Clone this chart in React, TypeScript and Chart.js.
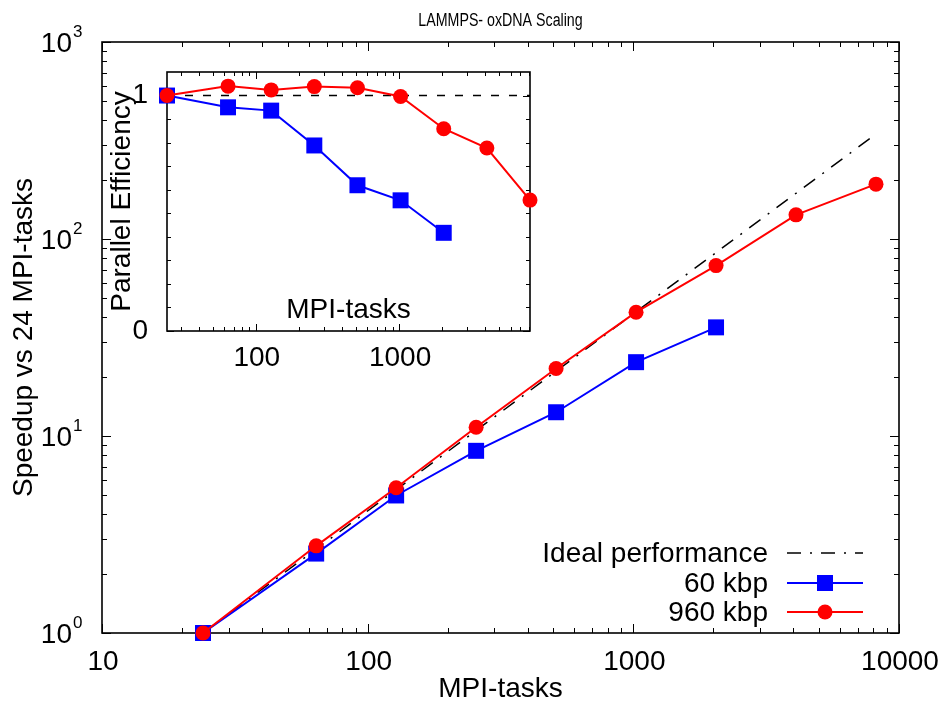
import { useEffect, useRef } from 'react';
import { Chart, registerables } from 'chart.js';

Chart.register(...registerables);

// ---------- data ----------
const tasks = [24, 64, 128, 256, 512, 1024, 2048, 4096, 8192];
const tasks60 = [24, 64, 128, 256, 512, 1024, 2048];
const speedup960 = [1, 2.77, 5.46, 11.07, 22.0, 42.5, 73.3, 132.6, 189.8];
const speedup60 = [1, 2.53, 4.99, 8.41, 13.2, 23.7, 35.6];
const idealTasks = [24, 8192];
const idealSpeedup = [1, 341.3];
const efficiency960 = [1, 1.04, 1.024, 1.038, 1.033, 0.996, 0.859, 0.777, 0.556];
const efficiency60 = [1, 0.95, 0.936, 0.788, 0.619, 0.555, 0.417];
const refEfficiency = [1, 1];

const mainXTicks = [10, 100, 1000, 10000];
const mainXMinor = [20, 30, 40, 50, 60, 70, 80, 90, 200, 300, 400, 500, 600, 700, 800, 900, 2000, 3000, 4000, 5000, 6000, 7000, 8000, 9000];
const mainYTicks = [1, 10, 100, 1000];
const mainYExponents = ['0', '1', '2', '3'];
const mainYMinor = [2, 3, 4, 5, 6, 7, 8, 9, 20, 30, 40, 50, 60, 70, 80, 90, 200, 300, 400, 500, 600, 700, 800, 900];
const insetXTicks = [100, 1000];
const insetXMinor = [30, 40, 50, 60, 70, 80, 90, 200, 300, 400, 500, 600, 700, 800, 900, 2000, 3000, 4000, 5000, 6000, 7000, 8000];
const insetYTicks = [0, 1];
const insetYMinor = [0.1, 0.2, 0.3, 0.4, 0.5, 0.6, 0.7, 0.8, 0.9, 1.0];

const legendLabels = ['Ideal performance', '60 kbp', '960 kbp'];

// ---------- styles ----------
const FONT = '"Liberation Sans", Arial, Helvetica, sans-serif';
const RED = '#ff0000';
const BLUE = '#0000ff';
const BLACK = '#000000';
const IDEAL_DASH = [14, 9, 2, 9];

function pts(xs: number[], ys: number[]) {
  return xs.map((x, i) => ({ x, y: ys[i] }));
}

function framePlugin(id: string, spec: {
  xMajor: number[]; xMinor: number[]; yMajor: number[]; yMinor: number[];
  majorLen: number; minorLen: number;
}) {
  return {
    id,
    beforeDatasetsDraw(chart: any) {
      const { ctx, chartArea: a, scales } = chart;
      const xs = scales.x, ys = scales.y;
      ctx.save();
      ctx.strokeStyle = BLACK;
      ctx.lineWidth = 1;
      const drawX = (vals: number[], len: number) => {
        vals.forEach((v) => {
          const px = Math.round(xs.getPixelForValue(v)) + 0.5;
          ctx.beginPath();
          ctx.moveTo(px, a.bottom); ctx.lineTo(px, a.bottom - len);
          ctx.moveTo(px, a.top); ctx.lineTo(px, a.top + len);
          ctx.stroke();
        });
      };
      const drawY = (vals: number[], len: number) => {
        vals.forEach((v) => {
          const py = Math.round(ys.getPixelForValue(v)) + 0.5;
          ctx.beginPath();
          ctx.moveTo(a.left, py); ctx.lineTo(a.left + len, py);
          ctx.moveTo(a.right, py); ctx.lineTo(a.right - len, py);
          ctx.stroke();
        });
      };
      drawX(spec.xMinor, spec.minorLen);
      drawX(spec.xMajor, spec.majorLen);
      drawY(spec.yMinor, spec.minorLen);
      drawY(spec.yMajor, spec.majorLen);
      ctx.lineWidth = 1.6;
      ctx.strokeRect(a.left, a.top, a.right - a.left, a.bottom - a.top);
      ctx.restore();
    },
  };
}

const mainDecor = {
  id: 'mainDecor',
  afterDraw(chart: any) {
    const { ctx, chartArea: a, scales } = chart;
    ctx.save();
    ctx.fillStyle = BLACK;
    // title (condensed)
    ctx.save();
    ctx.font = `18px ${FONT}`;
    ctx.textAlign = 'center';
    ctx.textBaseline = 'middle';
    ctx.translate((a.left + a.right) / 2, 21);
    ctx.scale(0.79, 1);
    ctx.fillText('LAMMPS- oxDNA Scaling', 0, 0);
    ctx.restore();
    // x tick labels
    ctx.font = `28px ${FONT}`;
    ctx.textAlign = 'center';
    ctx.textBaseline = 'middle';
    mainXTicks.forEach((v) => {
      ctx.fillText(String(v), scales.x.getPixelForValue(v) + 1, a.bottom + 29.5);
    });
    // y tick labels with superscripts
    mainYTicks.forEach((v, i) => {
      const py = scales.y.getPixelForValue(v);
      ctx.font = `28px ${FONT}`;
      ctx.textAlign = 'right';
      ctx.textBaseline = 'middle';
      ctx.fillText('10', 72, py + 2);
      ctx.font = `17px ${FONT}`;
      ctx.textAlign = 'left';
      ctx.fillText(mainYExponents[i], 73, py - 9.5);
    });
    // legend
    const textRight = a.right - 131;
    const x0 = a.right - 112;
    const x1 = a.right - 36;
    const xm = (x0 + x1) / 2;
    const rows = [553, 583, 612];
    ctx.font = `28px ${FONT}`;
    ctx.textAlign = 'right';
    ctx.textBaseline = 'middle';
    legendLabels.forEach((lab, i) => {
      ctx.fillStyle = BLACK;
      ctx.fillText(lab, textRight, rows[i] + 1);
    });
    // ideal sample
    ctx.strokeStyle = BLACK;
    ctx.lineWidth = 1.5;
    ctx.setLineDash(IDEAL_DASH);
    ctx.beginPath(); ctx.moveTo(x0, rows[0]); ctx.lineTo(x1, rows[0]); ctx.stroke();
    ctx.setLineDash([]);
    // 60 kbp
    ctx.strokeStyle = BLUE; ctx.lineWidth = 2;
    ctx.beginPath(); ctx.moveTo(x0, rows[1]); ctx.lineTo(x1, rows[1]); ctx.stroke();
    ctx.fillStyle = BLUE;
    ctx.fillRect(xm - 8, rows[1] - 8, 16, 16);
    // 960 kbp
    ctx.strokeStyle = RED;
    ctx.beginPath(); ctx.moveTo(x0, rows[2]); ctx.lineTo(x1, rows[2]); ctx.stroke();
    ctx.fillStyle = RED;
    ctx.beginPath(); ctx.arc(xm, rows[2], 7.5, 0, Math.PI * 2); ctx.fill();
    ctx.restore();
  },
};

const insetDecor = {
  id: 'insetDecor',
  afterDraw(chart: any) {
    const { ctx, chartArea: a, scales } = chart;
    ctx.save();
    ctx.fillStyle = BLACK;
    ctx.font = `28px ${FONT}`;
    ctx.textAlign = 'center';
    ctx.textBaseline = 'middle';
    ctx.fillText('MPI-tasks', (a.left + a.right) / 2, a.bottom - 21);
    insetXTicks.forEach((v) => {
      ctx.fillText(String(v), scales.x.getPixelForValue(v) + 1, a.bottom + 27);
    });
    ctx.textAlign = 'right';
    insetYTicks.forEach((v) => {
      ctx.fillText(String(v), a.left - 19, scales.y.getPixelForValue(v));
    });
    ctx.restore();
  },
};

export default function App() {
  const mainRef = useRef<HTMLCanvasElement>(null);
  const insetRef = useRef<HTMLCanvasElement>(null);

  useEffect(() => {
    if (!mainRef.current || !insetRef.current) return;
    const mainChart = new Chart(mainRef.current, {
      type: 'line',
      data: {
        datasets: [
          {
            label: '960 kbp', data: pts(tasks, speedup960), borderColor: RED, backgroundColor: RED,
            borderWidth: 2, pointStyle: 'circle', pointRadius: 7.5, pointBorderWidth: 0, order: 0, clip: false,
          },
          {
            label: '60 kbp', data: pts(tasks60, speedup60), borderColor: BLUE, backgroundColor: BLUE,
            borderWidth: 2, pointStyle: 'rect', pointRadius: 11.3, pointBorderWidth: 0, order: 1, clip: false,
          },
          {
            label: 'Ideal performance', data: pts(idealTasks, idealSpeedup), borderColor: BLACK,
            borderWidth: 1.5, borderDash: IDEAL_DASH, pointRadius: 0, order: 2, clip: false,
          },
        ] as any,
      },
      options: {
        animation: false,
        responsive: false,
        maintainAspectRatio: false,
        layout: { padding: { left: 0, right: 45, top: 42, bottom: 0 } },
        plugins: { legend: { display: false }, title: { display: false }, tooltip: { enabled: false } },
        scales: {
          x: {
            type: 'logarithmic', min: 10, max: 10000,
            grid: { display: false, drawTicks: false }, border: { display: false },
            afterFit: (s: any) => { s.height = 69; },
            ticks: { display: false },
            title: { display: true, text: 'MPI-tasks', color: BLACK, font: { family: FONT, size: 28, lineHeight: 0.9 }, padding: { top: 0, bottom: 0 } },
          },
          y: {
            type: 'logarithmic', min: 1, max: 1000,
            grid: { display: false, drawTicks: false }, border: { display: false },
            afterFit: (s: any) => { s.width = 102; },
            ticks: { display: false },
            title: { display: true, text: 'Speedup vs 24 MPI-tasks', color: BLACK, font: { family: FONT, size: 28, lineHeight: 1 }, padding: { top: 10, bottom: 0 } },
          },
        },
      } as any,
      plugins: [framePlugin('mainFrame', { xMajor: mainXTicks, xMinor: mainXMinor, yMajor: mainYTicks, yMinor: mainYMinor, majorLen: 9, minorLen: 5 }), mainDecor],
    });

    const insetChart = new Chart(insetRef.current, {
      type: 'line',
      data: {
        datasets: [
          {
            label: '960 kbp', data: pts(tasks, efficiency960), borderColor: RED, backgroundColor: RED,
            borderWidth: 2, pointStyle: 'circle', pointRadius: 7.5, pointBorderWidth: 0, order: 0, clip: false,
          },
          {
            label: '60 kbp', data: pts(tasks60, efficiency60), borderColor: BLUE, backgroundColor: BLUE,
            borderWidth: 2, pointStyle: 'rect', pointRadius: 11.3, pointBorderWidth: 0, order: 1, clip: false,
          },
          {
            label: 'ideal', data: pts(idealTasks, refEfficiency), borderColor: BLACK,
            borderWidth: 1.5, borderDash: [8, 10], pointRadius: 0, order: 2, clip: false,
          },
        ] as any,
      },
      options: {
        animation: false,
        responsive: false,
        maintainAspectRatio: false,
        layout: { padding: { left: 0, right: 12, top: 30, bottom: 0 } },
        plugins: { legend: { display: false }, title: { display: false }, tooltip: { enabled: false } },
        scales: {
          x: {
            type: 'logarithmic', min: 24, max: 8192,
            grid: { display: false, drawTicks: false }, border: { display: false },
            afterFit: (s: any) => { s.height = 41; },
            ticks: { display: false },
          },
          y: {
            type: 'linear', min: 0, max: 1.1,
            grid: { display: false, drawTicks: false }, border: { display: false },
            afterFit: (s: any) => { s.width = 65; },
            ticks: { display: false },
            title: { display: true, text: 'Parallel Efficiency', color: BLACK, font: { family: FONT, size: 28, lineHeight: 1 }, padding: { top: 6, bottom: 0 } },
          },
        },
      } as any,
      plugins: [framePlugin('insetFrame', { xMajor: insetXTicks, xMinor: insetXMinor, yMajor: insetYTicks, yMinor: insetYMinor, majorLen: 7, minorLen: 4 }), insetDecor],
    });

    return () => {
      mainChart.destroy();
      insetChart.destroy();
    };
  }, []);

  return (
    <div style={{ position: 'absolute', left: 0, top: 0, width: 944, height: 702, background: '#fff' }}>
      <canvas ref={mainRef} width={944} height={702} style={{ position: 'absolute', left: 0, top: 0, width: 944, height: 702 }} />
      <canvas ref={insetRef} width={440} height={330} style={{ position: 'absolute', left: 102, top: 42, width: 440, height: 330 }} />
    </div>
  );
}
